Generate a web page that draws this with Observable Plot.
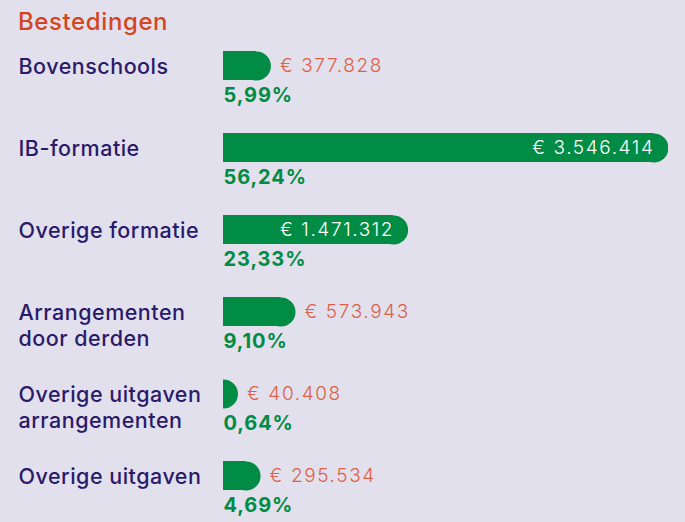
<!DOCTYPE html>
<html>
<head>
<meta charset="utf-8">
<script src="https://cdn.jsdelivr.net/npm/d3@7"></script>
<script src="https://cdn.jsdelivr.net/npm/@observablehq/plot@0.6"></script>
<style>
  html, body { margin: 0; padding: 0; background: #e3e0ee; }
  body { width: 685px; height: 522px; overflow: hidden; font-family: Inter, "Noto Sans", sans-serif; }
  #title { height: 40px; box-sizing: border-box; padding: 8px 0 0 18px; font-size: 24px; font-weight: 500; color: #d4451f; line-height: 28px; letter-spacing: 0.6px; }
  #chart svg { display: block; }
</style>
</head>
<body>
<div id="title">Bestedingen</div>
<div id="chart"></div>
<script>
const categories = [
  "Bovenschools",
  "IB-formatie",
  "Overige formatie",
  "Arrangementen door derden",
  "Overige uitgaven arrangementen",
  "Overige uitgaven"
];
const categoryLabels = [
  "Bovenschools",
  "IB-formatie",
  "Overige formatie",
  "Arrangementen\ndoor derden",
  "Overige uitgaven\narrangementen",
  "Overige uitgaven"
];
const amounts = [377828, 3546414, 1471312, 573943, 40408, 295534];
const percentages = [5.99, 56.24, 23.33, 9.10, 0.64, 4.69];

const green = "#008c44";
const orange = "#dc6246";
const navy = "#2a1a6a";

const W = 685, H = 482;
const mL = 223, mR = 17;
const maxV = d3.max(amounts);
const capPx = 14.5;
const capUnits = capPx * maxV / (W - mL - mR);

const fmtEuro = v => "€ " + d3.format(",")(v).replace(/,/g, ".");
const fmtPct = v => v.toFixed(2).replace(".", ",") + "%";

const data = categories.map((c, i) => {
  const end = Math.max(amounts[i], capUnits);
  return {
    cat: c,
    label: categoryLabels[i],
    value: amounts[i],
    pct: percentages[i],
    end,
    body: end - capUnits,
    inside: amounts[i] > 1000000
  };
});

const font = "Inter, 'Noto Sans', sans-serif";

const chart = Plot.plot({
  width: W,
  height: H,
  marginLeft: mL,
  marginRight: mR,
  marginTop: 10.5,
  marginBottom: 30.5,
  style: { background: "transparent", fontFamily: font },
  x: { domain: [0, maxV], axis: null },
  y: { domain: categories, axis: null, paddingInner: 0.648, paddingOuter: 0, align: 0 },
  marks: [
    Plot.barX(data, { x1: 0, x2: "body", y: "cat", fill: green, insetTop: 0, insetBottom: 0 }),
    Plot.dot(data, { x: "body", y: "cat", r: capPx, fill: green, stroke: null, clip: true }),
    Plot.text(data.filter(d => !d.inside), {
      x: "end", y: "cat", text: d => fmtEuro(d.value), dx: 9, textAnchor: "start",
      fill: orange, fontSize: 19, fontWeight: 300
    }),
    Plot.text(data.filter(d => d.inside), {
      x: "end", y: "cat", text: d => fmtEuro(d.value), dx: -14, textAnchor: "end",
      fill: "white", fontSize: 19, fontWeight: 300
    }),
    Plot.text(data, {
      x: 0, y: "cat", text: d => fmtPct(d.pct), dy: 30, textAnchor: "start",
      fill: green, fontSize: 20, fontWeight: 700
    }),
    Plot.text(data, {
      frameAnchor: "left", y: "cat", text: "label", dx: -205, dy: -10, textAnchor: "start",
      lineAnchor: "top", lineHeight: 1.2,
      fill: navy, fontSize: 21.5, fontWeight: 500
    })
  ]
});
const groups = chart.querySelectorAll('g[aria-label="text"]');
const spacing = [1.6, 1.6, 0.9, 0.5];
groups.forEach((g, i) => g.setAttribute("letter-spacing", spacing[i] + "px"));
document.getElementById("chart").appendChild(chart);
</script>
</body>
</html>
